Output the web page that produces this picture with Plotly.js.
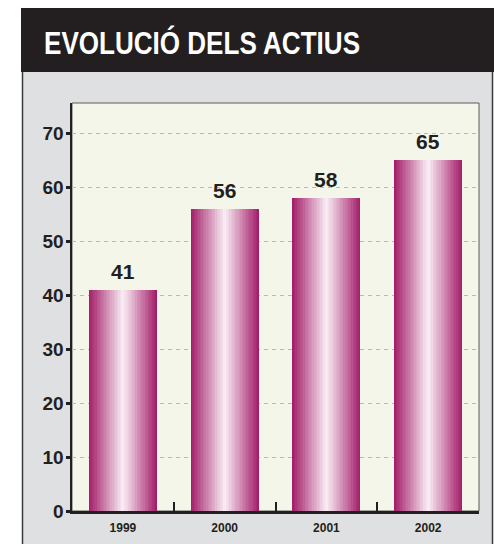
<!DOCTYPE html>
<html>
<head>
<meta charset="utf-8">
<script src="https://cdn.plot.ly/plotly-3.0.1.min.js"></script>
<style>html,body{margin:0;padding:0;background:#fff;}#chart{width:494px;height:544px;}</style>
</head>
<body>
<div id="chart"></div>
<script>
const years = ['1999', '2000', '2001', '2002'];
const values = [41, 56, 58, 65];
const titleText = 'EVOLUCIÓ DELS ACTIUS';
const yTicks = [0, 10, 20, 30, 40, 50, 60, 70];

const W = 494, H = 544;
const L = 72, R = 479, T = 103, B = 511;
const px = x => (x - L) / (R - L);
const py = y => (B - y) / (B - T);

const edge = [164, 32, 106];
const center = [248, 234, 243];
const N = 22;
const barW = 0.67;
const traces = [];
for (let i = 0; i < N; i++) {
  const t = i / (N - 1);
  const c = edge.map((e, k) => Math.round(e + (center[k] - e) * t));
  traces.push({
    type: 'bar',
    x: years,
    y: values,
    width: years.map(() => barW * (1 - i / N)),
    marker: {color: 'rgb(' + c.join(',') + ')', line: {width: 0}},
    hoverinfo: 'skip',
    showlegend: false
  });
}

const valueLabels = years.map((yr, i) => ({
  text: String(values[i]), x: i, y: values[i], xref: 'x', yref: 'y',
  xanchor: 'center', yanchor: 'bottom', yshift: 5, showarrow: false,
  font: {family: 'Liberation Sans, Arial, sans-serif', size: 21, color: '#231f20', weight: 'bold'}
}));

const layout = {
  width: W, height: H,
  margin: {l: L, r: W - R, t: T, b: H - B, pad: 0},
  paper_bgcolor: '#ffffff',
  plot_bgcolor: 'rgba(0,0,0,0)',
  barmode: 'overlay',
  bargap: 0,
  font: {family: 'Liberation Sans, Arial, sans-serif', color: '#231f20'},
  xaxis: {
    type: 'category',
    categoryorder: 'array', categoryarray: years,
    range: [-0.5, years.length - 0.5],
    tickson: 'boundaries',
    ticks: 'inside', ticklen: 9, tickwidth: 2, tickcolor: '#231f20',
    showline: true, linecolor: '#231f20', linewidth: 3,
    showgrid: false, zeroline: false,
    tickfont: {size: 12, weight: 'bold', color: '#231f20'},
    ticklabelstandoff: 4,
    fixedrange: true
  },
  yaxis: {
    range: [0, 75.6],
    tickvals: yTicks,
    ticks: 'outside', ticklen: 4, tickwidth: 3, tickcolor: '#231f20',
    showline: true, linecolor: '#231f20', linewidth: 2.5,
    showgrid: true, gridcolor: '#b9b9b9', gridwidth: 1, griddash: '4px,4px',
    zeroline: false,
    tickfont: {size: 19, weight: 'bold', color: '#231f20'},
    ticklabelstandoff: -2,
    fixedrange: true
  },
  shapes: [
    {type: 'rect', xref: 'paper', yref: 'paper', layer: 'below',
     x0: px(22), x1: px(493), y0: py(560), y1: py(72),
     fillcolor: '#dfe0e2', line: {width: 0}},
    {type: 'line', xref: 'paper', yref: 'paper', layer: 'below',
     x0: px(22.5), x1: px(22.5), y0: py(560), y1: py(72),
     line: {color: '#3a3a3a', width: 1.5}},
    {type: 'line', xref: 'paper', yref: 'paper', layer: 'below',
     x0: px(492.5), x1: px(492.5), y0: py(560), y1: py(72),
     line: {color: '#3a3a3a', width: 1.5}},
    {type: 'rect', xref: 'paper', yref: 'paper', layer: 'below',
     x0: 0, x1: 1, y0: 0, y1: 1,
     fillcolor: '#f3f6e9', line: {color: '#5a5a5a', width: 1}},
    {type: 'rect', xref: 'paper', yref: 'paper', layer: 'below',
     x0: px(21), x1: px(500), y0: py(72), y1: py(8),
     fillcolor: '#231f20', line: {width: 0}}
  ],
  annotations: [
    {text: titleText, xref: 'paper', yref: 'paper', x: px(202), y: py(43),
     xanchor: 'center', yanchor: 'middle', showarrow: false,
     font: {family: 'Liberation Sans, Arial, sans-serif', size: 31, color: '#ffffff', weight: 'bold'}}
  ].concat(valueLabels)
};

Plotly.newPlot('chart', traces, layout, {displayModeBar: false, staticPlot: true}).then(gd => {
  const t = gd.querySelector('.annotation-text');
  if (t) {
    t.setAttribute('textLength', '316');
    t.setAttribute('lengthAdjust', 'spacingAndGlyphs');
  }
});
</script>
</body>
</html>
